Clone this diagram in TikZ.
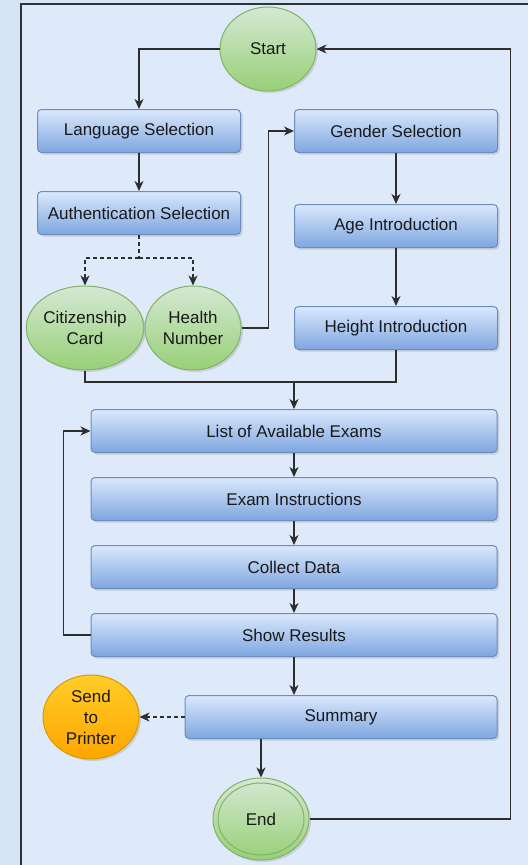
\documentclass[tikz,border=0pt]{standalone}
\usepackage{fontspec}
\setmainfont{Liberation Sans}
\usepackage{tikz}
\usetikzlibrary{arrows.meta, positioning, shapes.geometric, shadows}

\begin{document}
\begin{tikzpicture}[x=1pt, y=1pt, >={Stealth[length=10pt, width=9pt, inset=3pt]},
    every node/.style={align=center, font=\fontsize{17}{21}\selectfont, text=black!90},
    flow/.style={line width=1.4pt, draw=black!82},
    stepbox/.style={rectangle, rounded corners=4pt, minimum height=43pt, inner sep=0pt,
      draw=boxborder, line width=1pt, top color=boxtop, bottom color=boxbot,
      drop shadow={opacity=0.25, shadow xshift=2pt, shadow yshift=-2pt}},
    terminal/.style={ellipse, minimum width=96pt, minimum height=84pt, inner sep=0pt,
      draw=greenborder, line width=1pt, top color=greentop, bottom color=greenbot,
      drop shadow={opacity=0.25, shadow xshift=2pt, shadow yshift=-2pt}}]
      \definecolor{outerbg}{HTML}{D5E4F5} \definecolor{innerbg}{HTML}{DEEAF9}
      \definecolor{boxtop}{HTML}{DAE8FC} \definecolor{boxbot}{HTML}{7EA6E0} \definecolor{boxborder}{HTML}{6C8EBF}
      \definecolor{greentop}{HTML}{D5E8D4} \definecolor{greenbot}{HTML}{97D077} \definecolor{greenborder}{HTML}{82B366}
      \definecolor{orangetop}{HTML}{FFCD28} \definecolor{orangebot}{HTML}{FFA500} \definecolor{orangeborder}{HTML}{D79B00}
      \useasboundingbox (0,0) rectangle (528,-865);
      \fill[outerbg] (0,0) rectangle (528,-865);
      \fill[innerbg] (21,-4) rectangle (528,-865);
      \draw[line width=1.5pt, draw=black!80] (528,-4) -- (21,-4) -- (21,-865);
      % left column
      \node[terminal] (start) at (268,-49) {Start};
      \node[stepbox, minimum width=203pt] (lang) at (139,-131) {Language Selection};
      \node[stepbox, minimum width=203pt] (auth) at (139,-213) {Authentication Selection};
      \node[terminal, minimum width=97pt] (citz) at (85,-328) {Citizenship\\Card};
      \node[terminal] (hlth) at (193,-328) {Health\\Number};
      % right column
      \node[stepbox, minimum width=203pt] (gend) at (396,-131) {Gender Selection};
      \node[stepbox, minimum width=203pt] (age) at (396,-226) {Age Introduction};
      \node[stepbox, minimum width=203pt] (hgt) at (396,-328) {Height Introduction};
      % exams
      \node[stepbox, minimum width=406pt] (list) at (294,-431) {List of Available Exams};
      \node[stepbox, minimum width=406pt] (instr) at (294,-499) {Exam Instructions};
      \node[stepbox, minimum width=406pt] (collect) at (294,-567) {Collect Data};
      \node[stepbox, minimum width=406pt] (show) at (294,-635) {Show Results};
      \node[stepbox, minimum width=312pt] (summ) at (341,-717) {Summary};
      \node[terminal, draw=orangeborder, top color=orangetop, bottom color=orangebot] (print) at (91,-717) {Send\\to\\Printer};
      \node[terminal, minimum height=82pt] (endn) at (261,-819) {End};
      \draw[draw=greenborder, line width=1pt] (endn.center) ellipse (43 and 36);
      \coordinate (split) at (139,-258);
      \coordinate (merge) at (294,-382);
      % connectors
      \draw[flow, ->] (start.west) -| (lang.north);
      \draw[flow, ->] (lang) -- (auth);
      \draw[flow, dashed, dash pattern=on 4pt off 3pt] (auth.south) -- (split);
      \draw[flow, dashed, dash pattern=on 4pt off 3pt, ->] (split) -| (citz.north);
      \draw[flow, dashed, dash pattern=on 4pt off 3pt, ->] (split) -| (hlth.north);
      \draw[flow, ->] (hlth.east) -- ++(27,0) |- (gend.west);
      \draw[flow, ->] (gend) -- (age);
      \draw[flow, ->] (age) -- (hgt);
      \draw[flow] (citz.south) |- (merge) -| (hgt.south);
      \draw[flow, ->] (merge) -- (list.north);
      \draw[flow, ->] (list) -- (instr);
      \draw[flow, ->] (instr) -- (collect);
      \draw[flow, ->] (collect) -- (show);
      \draw[flow, ->] (show.west) -- ++(-27,0) |- (list.west);
      \draw[flow, ->] (show) -- (summ.north -| show);
      \draw[flow, dashed, dash pattern=on 4pt off 3pt, ->] (summ.west) -- (print.east);
      \draw[flow, ->] (endn.north |- summ.south) -- (endn.north);
      \draw[flow, ->] (endn.east) -- ++(201,0) |- (start.east);
    \end{tikzpicture}
\end{document}
